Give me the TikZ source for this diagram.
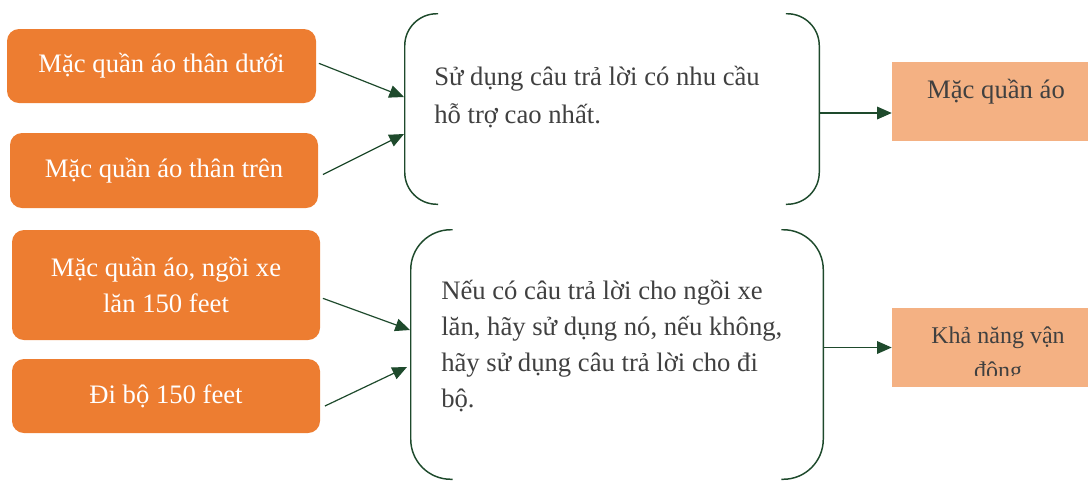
\documentclass[tikz,border=0pt]{standalone}
\usepackage{fontspec}
\setmainfont{Liberation Serif}
\usetikzlibrary{arrows.meta}
\definecolor{orangebox}{HTML}{ED7D31}
\definecolor{peach}{HTML}{F4B183}
\definecolor{darkgreen}{HTML}{1E4A2C}
\definecolor{txtgrey}{HTML}{404040}
\begin{document}
\begin{tikzpicture}[x=0.75pt,y=-0.75pt,
  leftbox/.style={fill=orangebox, rounded corners=9pt, text=white, align=center,
    font=\fontsize{20}{26.5}\selectfont, inner sep=0pt},
  rbox/.style={fill=peach, inner sep=0pt, minimum width=147pt, minimum height=59.25pt},
  rtext/.style={text=txtgrey, align=center, font=\fontsize{20}{26}\selectfont, inner sep=0pt},
  brk/.style={inner sep=0pt},
  brkline/.style={draw=darkgreen, line width=1.1pt},
  midtext/.style={text=txtgrey, align=left, inner sep=0pt},
  arr/.style={draw=darkgreen, line width=0.9pt, -{Triangle[length=11pt,width=9.5pt]}}
]
\useasboundingbox (0,0) rectangle (1088,480);

% left boxes
\node[leftbox, minimum width=231.75pt, minimum height=55.5pt] (l1) at (161.5,66) {Mặc quần áo thân dưới};
\node[leftbox, minimum width=231pt, minimum height=56.25pt] (l2) at (164,170.5) {Mặc quần áo thân trên};
\node[leftbox, minimum width=231pt, minimum height=82.5pt] (l3) at (166,285) {Mặc quần áo, ngồi xe\\lăn 150 feet};
\node[leftbox, minimum width=231pt, minimum height=55.5pt] (l4) at (166,396) {Đi bộ 150 feet};

% brackets
\node[brk, minimum width=310.5pt, minimum height=142.5pt] (b1) at (612,109) {};
\node[brk, minimum width=309pt, minimum height=186.75pt] (b2) at (617,354.5) {};
\draw[brkline, rounded corners=24pt] ([xshift=25pt]b1.north west) -- (b1.north west) -- (b1.south west) -- ([xshift=25pt]b1.south west);
\draw[brkline, rounded corners=24pt] ([xshift=-25pt]b1.north east) -- (b1.north east) -- (b1.south east) -- ([xshift=-25pt]b1.south east);
\draw[brkline, rounded corners=30pt] ([xshift=31.5pt]b2.north west) -- (b2.north west) -- (b2.south west) -- ([xshift=31.5pt]b2.south west);
\draw[brkline, rounded corners=30pt] ([xshift=-31.5pt]b2.north east) -- (b2.north east) -- (b2.south east) -- ([xshift=-31.5pt]b2.south east);

\node[midtext, anchor=west, font=\fontsize{20}{28.5}\selectfont] (t1) at (434,97) {Sử dụng câu trả lời có nhu cầu\\hỗ trợ cao nhất.};
\node[midtext, anchor=west, font=\fontsize{20}{27}\selectfont] (t2) at (441,346) {Nếu có câu trả lời cho ngồi xe\\lăn, hãy sử dụng nó, nếu không,\\hãy sử dụng câu trả lời cho đi\\bộ.};

% right boxes
\node[rbox] (r1) at (990,101.5) {};
\node[rtext] (r1t) at (996,92) {Mặc quần áo};
\node[rbox] (r2) at (990,347.5) {};
\begin{scope}
  \clip (r2.north west) rectangle ([yshift=9pt]r2.south east);
  \node[rtext, anchor=north, font=\fontsize{18}{26}\selectfont] (r2t) at ([xshift=6pt,yshift=-14pt]r2.north) {Khả năng vận\\động};
\end{scope}

% connectors
\coordinate (b1i1) at (404,97);
\coordinate (b1i2) at (404,134);
\coordinate (b2i1) at (410,330);
\coordinate (b2i2) at (407,367);
\draw[arr] ([xshift=2pt,yshift=2pt]l1.east) -- (b1i1);
\draw[arr] ([xshift=3.5pt,yshift=-3pt]l2.east) -- (b1i2);
\draw[arr] ([xshift=2pt,yshift=-10pt]l3.east) -- (b2i1);
\draw[arr] ([xshift=3.5pt,yshift=-7.5pt]l4.east) -- (b2i2);
\draw[arr] ([yshift=-3pt]b1.east) -- ([yshift=-3pt]b1.east -| r1.west);
\draw[arr] (b2.east |- r2.west) -- (r2.west);
\end{tikzpicture}
\end{document}
